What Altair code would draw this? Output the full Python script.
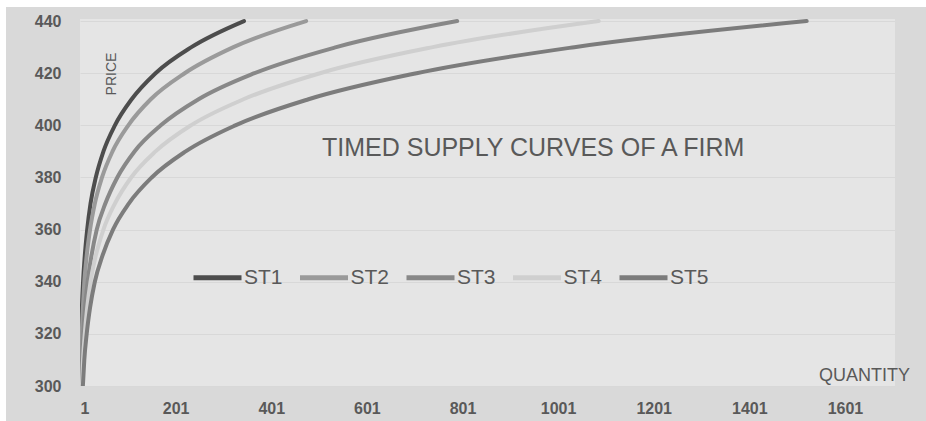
import altair as alt
import pandas as pd

# ---- data ----
series_names = ["ST1", "ST2", "ST3", "ST4", "ST5"]
series_colors = ["#4d4d4d", "#9a9a9a", "#888888", "#cfcfcf", "#7c7c7c"]

prices = [300, 310, 320, 330, 340, 350, 360, 370, 380, 390, 400, 410, 420, 430, 440]

q_st1 = [1.6, 2.3, 3.4, 5, 7.4, 11, 16, 23, 34, 50, 74, 109, 159, 234, 344]
q_st2 = [2.2, 3.2, 4.7, 7, 10, 15, 22, 32, 47, 69, 102, 149, 220, 322, 474]
q_st3 = [3.6, 5.3, 7.8, 11.5, 17, 25, 36, 54, 79, 115, 170, 249, 366, 537, 790]
q_st4 = [5, 7.3, 11, 16, 23, 34, 50, 74, 108, 159, 233, 343, 503, 739, 1086]
q_st5 = [7, 10, 15, 22, 32, 48, 70, 103, 151, 222, 326, 479, 705, 1035, 1521]

x_ticks = [1, 201, 401, 601, 801, 1001, 1201, 1401, 1601]
y_ticks = [300, 320, 340, 360, 380, 400, 420, 440]

chart_title = "TIMED SUPPLY CURVES OF A FIRM"
x_title = "QUANTITY"
y_title = "PRICE"

# ---- build table ----
rows = []
for name, qs in zip(series_names, [q_st1, q_st2, q_st3, q_st4, q_st5]):
    for q, p in zip(qs, prices):
        rows.append({"series": name, "q": q, "p": p})
df = pd.DataFrame(rows)

W, H = 815, 367
FONT = "Liberation Sans"
TXT = "#595959"

lines = alt.Chart(df).mark_line(
    strokeWidth=4, strokeCap="round", strokeJoin="round",
    interpolate="monotone", clip=True
).encode(
    x=alt.X("q:Q",
            scale=alt.Scale(domain=[1, 1705.7], nice=False, zero=False),
            axis=alt.Axis(values=x_ticks, format="d", title=x_title, grid=False,
                          ticks=False, domain=False, labelFont=FONT, labelFontSize=16,
                          labelFontWeight="bold", labelColor=TXT, labelPadding=14,
                          titleFont=FONT, titleFontSize=18, titleFontWeight="normal",
                          titleColor=TXT, titleX=784, titleY=-10.5,
                          titleAlign="center", titleBaseline="middle")),
    y=alt.Y("p:Q",
            scale=alt.Scale(domain=[300, 440.8], nice=False, zero=False),
            axis=alt.Axis(values=y_ticks, title=y_title, grid=True, gridColor="#d8d8d8",
                          gridWidth=1, ticks=False, domain=False, labelFont=FONT,
                          labelFontSize=16, labelFontWeight="bold", labelColor=TXT,
                          labelPadding=19, titleFont=FONT, titleFontSize=14,
                          titleFontWeight="normal", titleColor=TXT, titleAngle=270,
                          titleX=31, titleY=54.5, titleAlign="center",
                          titleBaseline="middle")),
    color=alt.Color("series:N",
                    scale=alt.Scale(domain=series_names, range=series_colors),
                    legend=alt.Legend(title=None, orient="none", direction="horizontal",
                                      legendX=111, legendY=232, symbolType="stroke",
                                      symbolSize=2304, symbolStrokeWidth=5,
                                      labelFont=FONT, labelFontSize=21, labelColor=TXT,
                                      labelOffset=0, columnPadding=6.5, padding=0)),
)

strip_data = alt.Data(values=[{"k": 1}])
top_strip = alt.Chart(strip_data).mark_rect(color="white", clip=False).encode(
    x=alt.value(-80), x2=alt.value(W + 31), y=alt.value(-19), y2=alt.value(-12))
left_strip = alt.Chart(strip_data).mark_rect(color="white", clip=False).encode(
    x=alt.value(-80), x2=alt.value(-74), y=alt.value(-19), y2=alt.value(H + 35))

chart = alt.layer(lines, top_strip, left_strip).properties(
    width=W, height=H,
    autosize=alt.AutoSizeParams(type="none"),
    padding={"left": 80, "top": 19, "right": 31, "bottom": 35},
    background="#d9d9d9",
    title=alt.TitleParams(chart_title, anchor="start", frame="group", orient="top",
                          offset=0, dx=242, dy=181, baseline="alphabetic",
                          font=FONT, fontSize=25, fontWeight="normal", color=TXT),
).configure_view(fill="#e5e5e5", stroke=None)

chart.save("out.html", embed_options={"renderer": "svg", "actions": False})
